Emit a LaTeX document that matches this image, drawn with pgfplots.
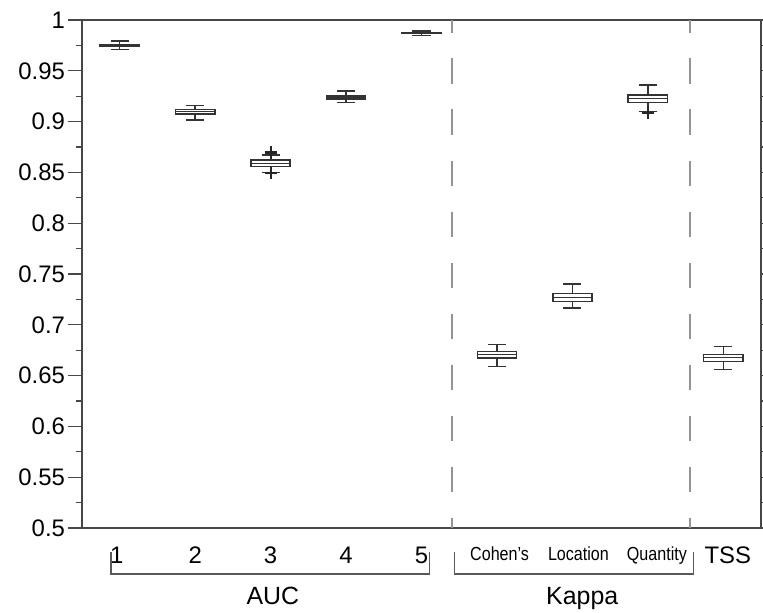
\documentclass[border=0pt]{standalone}
\usepackage{fontspec}
\setmainfont{Liberation Sans}
\usepackage{graphicx}
\usepackage{pgfplots}
\pgfplotsset{compat=1.18}
\usepgfplotslibrary{statistics}
\newcommand{\cond}[1]{\scalebox{0.85}[1]{\fontsize{19}{22}\selectfont #1}}
\tikzset{bx/.style={solid, draw=black!80, line width=1.5pt,
  mark=+, mark size=6bp, mark options={solid, line width=1.8pt, draw=black!85}}}
\begin{document}
\begin{tikzpicture}
\begin{axis}[
  boxplot/draw direction=y,
  boxplot/every box/.style={solid, draw=black!80, line width=1.5pt, fill=white},
  boxplot/every whisker/.style={solid, draw=black!80, line width=1.5pt},
  boxplot/every median/.style={solid, draw=black!80, line width=1.5pt},
  scale only axis,
  width=679bp, height=508bp,
  xmin=0.5, xmax=9.5, ymin=0.5, ymax=1,
  clip=false,
  axis line style={draw=black!72, line width=1.1pt},
  xtick={0.96,2,3,4,5,6.035,7.08,8.12,9.06},
  xticklabels={1,2,3,4,5,{\cond{Cohen's}},{\cond{Location}},{\cond{Quantity}},TSS},
  x tick label style={anchor=north, inner sep=0pt, yshift=-5bp, font=\fontsize{24}{28}\selectfont},
  xtick style={draw=none},
  xtick pos=bottom,
  ytick={0.5,0.55,0.6,0.65,0.7,0.75,0.8,0.85,0.9,0.95,1},
  minor y tick num=1,
  ytick pos=both,
  tick align=outside,
  major tick length=13.5bp, minor tick length=5.5bp,
  ytick style={draw=black!72, line width=1.1pt},
  y tick label style={font=\fontsize{24}{28}\selectfont, /pgf/number format/fixed,
     /pgf/number format/precision=2, /pgf/number format/assume math mode=true},
]
% separators
\addplot[black!42, line width=1.7pt, dash pattern=on 25.5bp off 25.5bp, dash phase=12.5bp] coordinates {(5.405,1) (5.405,0.5)};
\addplot[black!42, line width=1.7pt, dash pattern=on 25.5bp off 25.5bp, dash phase=12.5bp] coordinates {(8.56,1) (8.56,0.5)};
% AUC 1-5
\addplot[bx, boxplot prepared={draw position=1, lower whisker=0.9710, lower quartile=0.9745, median=0.9750, upper quartile=0.9755, upper whisker=0.9793, box extend=0.52, whisker extend=0.24}] coordinates {};
\addplot[bx, boxplot prepared={draw position=2, lower whisker=0.9016, lower quartile=0.9075, median=0.9098, upper quartile=0.9121, upper whisker=0.9156, box extend=0.52, whisker extend=0.24}] coordinates {};
\addplot[bx, boxplot prepared={draw position=3, lower whisker=0.8500, lower quartile=0.8556, median=0.8590, upper quartile=0.8620, upper whisker=0.8671, box extend=0.52, whisker extend=0.24}] coordinates {(0,0.8690) (0,0.8697) (0,0.8704) (0,0.8493)};
\addplot[bx, boxplot prepared={draw position=4, lower whisker=0.9186, lower quartile=0.9222, median=0.9240, upper quartile=0.9259, upper whisker=0.9301, box extend=0.52, whisker extend=0.24}] coordinates {};
\addplot[bx, boxplot prepared={draw position=5, lower whisker=0.9845, lower quartile=0.9872, median=0.9875, upper quartile=0.9878, upper whisker=0.9894, box extend=0.52, whisker extend=0.24}] coordinates {};
% Kappa
\addplot[bx, boxplot prepared={draw position=6, lower whisker=0.6588, lower quartile=0.6673, median=0.6706, upper quartile=0.6739, upper whisker=0.6808, box extend=0.52, whisker extend=0.24}] coordinates {};
\addplot[bx, boxplot prepared={draw position=7, lower whisker=0.7165, lower quartile=0.7227, median=0.7269, upper quartile=0.7310, upper whisker=0.7402, box extend=0.52, whisker extend=0.24}] coordinates {};
\addplot[bx, boxplot prepared={draw position=8, lower whisker=0.9097, lower quartile=0.9190, median=0.9225, upper quartile=0.9262, upper whisker=0.9360, box extend=0.52, whisker extend=0.24}] coordinates {(0,0.9088) (0,0.9082)};
% TSS
\addplot[bx, boxplot prepared={draw position=9, lower whisker=0.6562, lower quartile=0.6641, median=0.6676, upper quartile=0.6710, upper whisker=0.6784, box extend=0.52, whisker extend=0.24}] coordinates {};
% brackets
\draw[black!65, line width=1.2pt] ([yshift=-24bp]axis cs:0.885,0.5) -- ([yshift=-46bp]axis cs:0.885,0.5) -- ([yshift=-46bp]axis cs:5.11,0.5) -- ([yshift=-24bp]axis cs:5.11,0.5);
\draw[black!65, line width=1.2pt] ([yshift=-24bp]axis cs:5.44,0.5) -- ([yshift=-46bp]axis cs:5.44,0.5) -- ([yshift=-46bp]axis cs:8.61,0.5) -- ([yshift=-24bp]axis cs:8.61,0.5);
\node[anchor=base, inner sep=0pt, font=\fontsize{25}{30}\selectfont] at ([yshift=-76bp]axis cs:3.03,0.5) {AUC};
\node[anchor=base, inner sep=0pt, font=\fontsize{25}{30}\selectfont] at ([yshift=-76bp]axis cs:7.13,0.5) {Kappa};
\coordinate (SW) at (rel axis cs:0,0);
\coordinate (NE) at (rel axis cs:1,1);
\end{axis}
\pgfresetboundingbox
\path[use as bounding box] ([shift={(-82bp,-84bp)}]SW) rectangle ([shift={(2bp,20bp)}]NE);
\end{tikzpicture}
\end{document}
